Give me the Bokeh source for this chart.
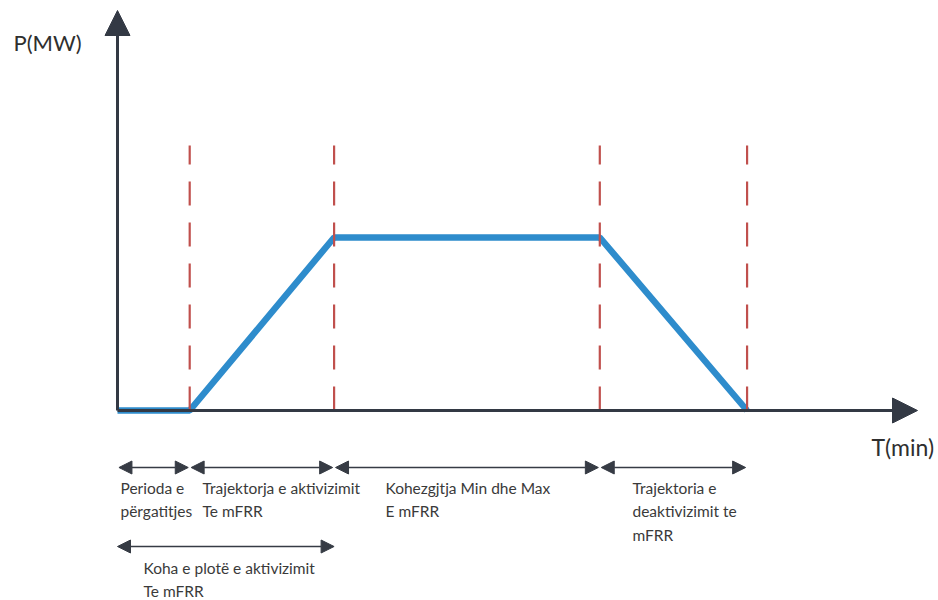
from bokeh.plotting import figure
from bokeh.models import Range1d, Arrow, NormalHead
from bokeh.core.properties import value
from bokeh.embed import file_html
from bokeh.resources import INLINE

# ---- data (schematic mFRR activation profile) ----
t_points = [0.0, 1.0, 3.0, 6.68, 8.72]   # T (min, schematic units)
p_points = [0.0, 0.0, 1.0, 1.0, 0.0]     # P (MW, normalised)
phase_bounds = [1.0, 3.0, 6.68, 8.72]    # red dashed phase markers
phase_labels = [
    "Perioda e\npërgatitjes",
    "Trajektorja e aktivizimit\nTe mFRR",
    "Kohezgjtja Min dhe Max\nE mFRR",
    "Trajektoria e\ndeaktivizimit te\nmFRR",
]
total_label = "Koha e plotë e aktivizimit\nTe mFRR"
x_axis_label = "T(min)"
y_axis_label = "P(MW)"

# ---- layout scale (pixels per unit) ----
W, H = 938, 600
ox, oy = 117, 410          # origin in pixels
ux, uy = 72.2, 173.0       # px per unit
def dx(px):  # pixel column -> data x
    return (px - ox) / ux
def dy(py):  # pixel row -> data y
    return (oy - py) / uy

p = figure(width=W, height=H, output_backend="svg", toolbar_location=None,
           x_range=Range1d(dx(0), dx(W)), y_range=Range1d(dy(H), dy(0)),
           min_border=0, outline_line_color=None, background_fill_color="white",
           border_fill_color="white")
p.axis.visible = False
p.grid.visible = False

axis_col = "#333944"
# axes with arrows
p.add_layout(Arrow(x_start=0, y_start=0, x_end=dx(917), y_end=0, line_width=3,
                   line_color=axis_col,
                   end=NormalHead(size=25, fill_color=axis_col, line_color=axis_col)))
p.add_layout(Arrow(x_start=0, y_start=0, x_end=0, y_end=dy(10), line_width=3,
                   line_color=axis_col,
                   end=NormalHead(size=25, fill_color=axis_col, line_color=axis_col)))

# blue profile
p.line(t_points, p_points, line_color="#2e8ccc", line_width=6.5)

# red dashed phase markers
top = dy(145)
p.segment(x0=phase_bounds, y0=[0] * len(phase_bounds), x1=phase_bounds,
          y1=[top] * len(phase_bounds), line_color="#c0504d", line_width=2.2,
          line_dash="24 17")

# double-headed arrows
arr_col = "#363b44"
row1 = dy(467)
row2 = dy(546)
starts = [t_points[0]] + phase_bounds[:-1]
gap = 0.02
for s, e in zip(starts, phase_bounds):
    p.add_layout(Arrow(x_start=s + gap, y_start=row1, x_end=e - gap, y_end=row1,
                       line_width=1.4, line_color=arr_col,
                       start=NormalHead(size=13, fill_color=arr_col, line_color=arr_col),
                       end=NormalHead(size=13, fill_color=arr_col, line_color=arr_col)))
p.add_layout(Arrow(x_start=t_points[0], y_start=row2, x_end=phase_bounds[1], y_end=row2,
                   line_width=1.4, line_color=arr_col,
                   start=NormalHead(size=13, fill_color=arr_col, line_color=arr_col),
                   end=NormalHead(size=13, fill_color=arr_col, line_color=arr_col)))

# labels
txt_col = "#3a3a3a"
label_x = [dx(120), dx(202), dx(385), dx(632)]
p.text(x=label_x, y=[dy(478)] * 4, text=phase_labels, text_font=value("Lato"),
       text_font_size="15.5px", text_baseline="top", text_align="left",
       text_line_height=1.33, text_color=txt_col)
p.text(x=[dx(143)], y=[dy(558)], text=[total_label], text_font=value("Lato"),
       text_font_size="15.5px", text_baseline="top", text_align="left",
       text_line_height=1.33, text_color=txt_col)

p.text(x=[dx(13)], y=[dy(42)], text=[y_axis_label], text_font=value("Lato"),
       text_font_size="22px", text_baseline="middle", text_align="left",
       text_color="#2f2f2f")
p.text(x=[dx(871)], y=[dy(446)], text=[x_axis_label], text_font=value("Lato"),
       text_font_size="23px", text_baseline="middle", text_align="left",
       text_color="#2f2f2f")

open("out.html", "w").write(file_html(p, INLINE))
